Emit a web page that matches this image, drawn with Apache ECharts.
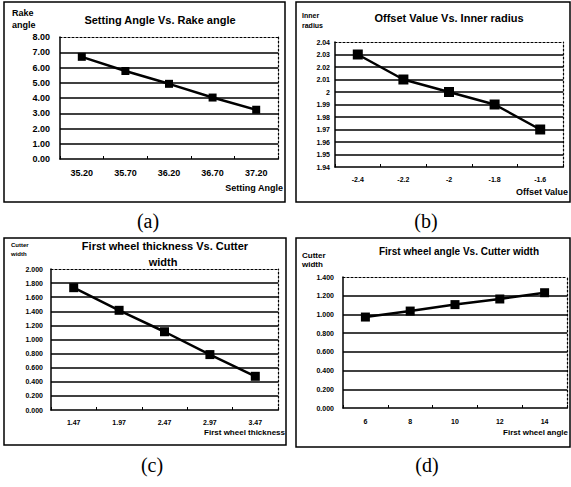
<!DOCTYPE html>
<html>
<head>
<meta charset="utf-8">
<script src="https://cdn.jsdelivr.net/npm/echarts@6/dist/echarts.min.js"></script>
<style>html,body{margin:0;padding:0;background:#fff}#c{width:571px;height:487px}</style>
</head>
<body>
<div id="c"></div>
<script>
// (a) Setting Angle vs Rake angle
var settingAngle = ['35.20', '35.70', '36.20', '36.70', '37.20'];
var rakeAngle = [6.70, 5.77, 4.93, 4.03, 3.23];
// (b) Offset Value vs Inner radius
var offsetValue = ['-2.4', '-2.2', '-2', '-1.8', '-1.6'];
var innerRadius = [2.03, 2.01, 2.00, 1.99, 1.97];
// (c) First wheel thickness vs Cutter width
var wheelThickness = ['1.47', '1.97', '2.47', '2.97', '3.47'];
var cutterWidthC = [1.735, 1.414, 1.110, 0.786, 0.478];
// (d) First wheel angle vs Cutter width
var wheelAngle = ['6', '8', '10', '12', '14'];
var cutterWidthD = [0.972, 1.036, 1.105, 1.165, 1.232];

var FONT = '"Liberation Sans", Arial, sans-serif';
var chart = echarts.init(document.getElementById('c'), null, {renderer: 'svg'});

var panels = [
  {grid: {left: 60, top: 37, width: 218, height: 122}, cats: settingAngle, vals: rakeAngle,
   min: 0, max: 8, interval: 1, dec: 2, fs: 9, ym: 10, xm: 9, sym: 8},
  {grid: {left: 335, top: 42, width: 228, height: 125}, cats: offsetValue, vals: innerRadius,
   min: 1.94, max: 2.04, interval: 0.01, dec: -1, fs: 7, ym: 5, xm: 9, sym: 10},
  {grid: {left: 51, top: 269, width: 227, height: 141}, cats: wheelThickness, vals: cutterWidthC,
   min: 0, max: 2, interval: 0.2, dec: 3, fs: 7, ym: 8, xm: 9, sym: 9},
  {grid: {left: 343, top: 277, width: 224, height: 131}, cats: wheelAngle, vals: cutterWidthD,
   min: 0, max: 1.4, interval: 0.2, dec: 3, fs: 7, ym: 9, xm: 10, sym: 9}
];

var dotted = {color: '#000', width: 1.2, type: [2, 2]};
var grids = [], xAxes = [], yAxes = [], series = [];
panels.forEach(function (p, i) {
  grids.push(Object.assign({containLabel: false, outerBoundsMode: 'none'}, p.grid));
  var lbl = {color: '#000', fontFamily: FONT, fontWeight: 'bold', fontSize: p.fs};
  xAxes.push({type: 'category', gridIndex: i, data: p.cats, boundaryGap: true, position: 'bottom',
    axisLine: {onZero: false, lineStyle: {color: '#000', width: 1.5}},
    axisTick: {show: true, inside: true, length: 3, lineStyle: {color: '#000'}},
    axisLabel: Object.assign({margin: p.xm, interval: 0}, lbl),
    splitLine: {show: false}});
  xAxes.push({type: 'category', gridIndex: i, data: p.cats, position: 'top',
    axisLine: {show: true, onZero: false, lineStyle: dotted},
    axisTick: {show: false}, axisLabel: {show: false}, splitLine: {show: false}});
  yAxes.push({type: 'value', gridIndex: i, min: p.min, max: p.max, interval: p.interval, position: 'left',
    axisLine: {show: true, onZero: false, lineStyle: {color: '#000', width: 1.5}},
    axisTick: {show: false},
    axisLabel: Object.assign({margin: p.ym, formatter: function (v) {
      return p.dec >= 0 ? v.toFixed(p.dec) : String(Math.round(v * 100) / 100);
    }}, lbl),
    splitLine: {show: true, showMinLine: false, showMaxLine: false, lineStyle: {color: '#000', width: 1.5}}});
  yAxes.push({type: 'value', gridIndex: i, min: p.min, max: p.max, interval: p.interval, position: 'right', offset: 0,
    axisLine: {show: true, onZero: false, lineStyle: dotted},
    axisTick: {show: false}, axisLabel: {show: false}, splitLine: {show: false}});
  series.push({type: 'line', xAxisIndex: 2 * i, yAxisIndex: 2 * i, data: p.vals,
    symbol: 'rect', symbolSize: p.sym, showSymbol: true,
    lineStyle: {color: '#000', width: 2.5}, itemStyle: {color: '#000'}, silent: true, animation: false});
});

function txt(text, x, y, font, align, valign) {
  return {type: 'text', x: x, y: y, silent: true,
    style: {text: text, font: font, fill: '#000', textAlign: align || 'center', textVerticalAlign: valign || 'middle'}};
}
function frame(x, y, w, h) {
  return {type: 'rect', shape: {x: x, y: y, width: w, height: h}, silent: true,
    style: {fill: 'none', stroke: '#000', lineWidth: 1.5}};
}
var B = 'bold ';
var SERIF = '20px "Liberation Serif", "Times New Roman", serif';
var graphics = [
  frame(4, 2, 281, 200), frame(296, 2, 274, 200), frame(4, 238, 282, 207), frame(296, 238, 274, 209),
  // titles
  txt('Setting Angle Vs. Rake angle', 160, 20, B + '11px ' + FONT),
  txt('Offset Value Vs. Inner radius', 449, 18, B + '11px ' + FONT),
  txt('First wheel thickness Vs. Cutter', 165, 246, B + '11px ' + FONT),
  txt('width', 163, 262, B + '11px ' + FONT),
  txt('First wheel angle Vs. Cutter width', 459, 251, B + '10px ' + FONT),
  // y axis names
  txt('Rake', 12, 13, B + '9px ' + FONT, 'left'),
  txt('angle', 12, 25, B + '9px ' + FONT, 'left'),
  txt('Inner', 302, 15, B + '7px ' + FONT, 'left'),
  txt('radius', 302, 25, B + '7px ' + FONT, 'left'),
  txt('Cutter', 11, 245, B + '6px ' + FONT, 'left'),
  txt('width', 11, 254, B + '6px ' + FONT, 'left'),
  txt('Cutter', 302, 255, B + '8px ' + FONT, 'left'),
  txt('width', 302, 264, B + '8px ' + FONT, 'left'),
  // x axis names
  txt('Setting Angle', 283, 188, B + '9px ' + FONT, 'right'),
  txt('Offset Value', 568, 192, B + '9px ' + FONT, 'right'),
  txt('First wheel thickness', 285, 432, B + '8px ' + FONT, 'right'),
  txt('First wheel angle', 568, 432, B + '8px ' + FONT, 'right'),
  // captions
  txt('(a)', 148, 221, SERIF),
  txt('(b)', 426, 221, SERIF),
  txt('(c)', 152, 465, SERIF),
  txt('(d)', 427, 465, SERIF)
];

chart.setOption({
  animation: false,
  backgroundColor: '#fff',
  grid: grids, xAxis: xAxes, yAxis: yAxes, series: series,
  graphic: {elements: graphics}
});
</script>
</body>
</html>
